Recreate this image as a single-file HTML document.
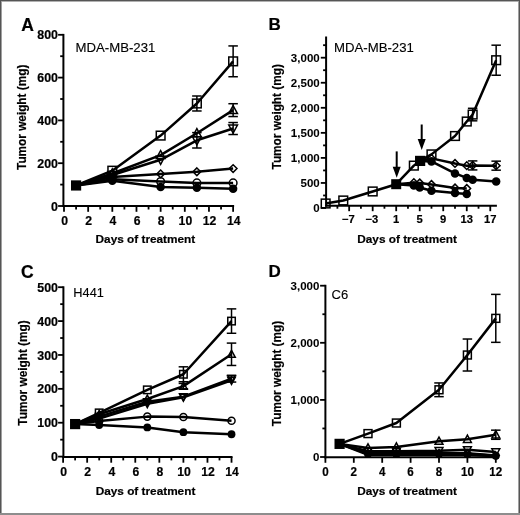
<!DOCTYPE html>
<html><head><meta charset="utf-8"><style>
html,body{margin:0;padding:0;width:520px;height:515px;overflow:hidden;background:#fff;}
svg text{font-family:"Liberation Sans", sans-serif;fill:#000;}
svg text[font-weight=bold]{stroke:#000;stroke-width:0.2px;}
svg text[font-weight=normal]{stroke:#000;stroke-width:0.12px;}
#wrap{position:absolute;left:0;top:0;width:520px;height:515px;filter:grayscale(1);}
</style></head><body><div id="wrap">
<svg width="520" height="515" viewBox="0 0 520 515" style="position:absolute;left:0;top:0">
<rect x="0" y="0" width="520" height="515" fill="#fff"/>
<line x1="63.4" y1="33.9" x2="63.4" y2="207" stroke="#000" stroke-width="2.0" stroke-linecap="butt"/>
<line x1="62.4" y1="206" x2="234.12" y2="206" stroke="#000" stroke-width="2.0" stroke-linecap="butt"/>
<line x1="58.1" y1="206" x2="63.4" y2="206" stroke="#000" stroke-width="1.8" stroke-linecap="butt"/>
<line x1="58.1" y1="163.2" x2="63.4" y2="163.2" stroke="#000" stroke-width="1.8" stroke-linecap="butt"/>
<line x1="58.1" y1="120.4" x2="63.4" y2="120.4" stroke="#000" stroke-width="1.8" stroke-linecap="butt"/>
<line x1="58.1" y1="77.6" x2="63.4" y2="77.6" stroke="#000" stroke-width="1.8" stroke-linecap="butt"/>
<line x1="58.1" y1="34.8" x2="63.4" y2="34.8" stroke="#000" stroke-width="1.8" stroke-linecap="butt"/>
<line x1="60.2" y1="184.6" x2="63.4" y2="184.6" stroke="#000" stroke-width="1.8" stroke-linecap="butt"/>
<line x1="60.2" y1="141.8" x2="63.4" y2="141.8" stroke="#000" stroke-width="1.8" stroke-linecap="butt"/>
<line x1="60.2" y1="99" x2="63.4" y2="99" stroke="#000" stroke-width="1.8" stroke-linecap="butt"/>
<line x1="60.2" y1="56.2" x2="63.4" y2="56.2" stroke="#000" stroke-width="1.8" stroke-linecap="butt"/>
<line x1="64" y1="206" x2="64" y2="211.8" stroke="#000" stroke-width="1.8" stroke-linecap="butt"/>
<line x1="88.16" y1="206" x2="88.16" y2="211.8" stroke="#000" stroke-width="1.8" stroke-linecap="butt"/>
<line x1="112.32" y1="206" x2="112.32" y2="211.8" stroke="#000" stroke-width="1.8" stroke-linecap="butt"/>
<line x1="136.48" y1="206" x2="136.48" y2="211.8" stroke="#000" stroke-width="1.8" stroke-linecap="butt"/>
<line x1="160.64" y1="206" x2="160.64" y2="211.8" stroke="#000" stroke-width="1.8" stroke-linecap="butt"/>
<line x1="184.8" y1="206" x2="184.8" y2="211.8" stroke="#000" stroke-width="1.8" stroke-linecap="butt"/>
<line x1="208.96" y1="206" x2="208.96" y2="211.8" stroke="#000" stroke-width="1.8" stroke-linecap="butt"/>
<line x1="233.12" y1="206" x2="233.12" y2="211.8" stroke="#000" stroke-width="1.8" stroke-linecap="butt"/>
<line x1="76.08" y1="206" x2="76.08" y2="209.5" stroke="#000" stroke-width="1.8" stroke-linecap="butt"/>
<line x1="100.24" y1="206" x2="100.24" y2="209.5" stroke="#000" stroke-width="1.8" stroke-linecap="butt"/>
<line x1="124.4" y1="206" x2="124.4" y2="209.5" stroke="#000" stroke-width="1.8" stroke-linecap="butt"/>
<line x1="148.56" y1="206" x2="148.56" y2="209.5" stroke="#000" stroke-width="1.8" stroke-linecap="butt"/>
<line x1="172.72" y1="206" x2="172.72" y2="209.5" stroke="#000" stroke-width="1.8" stroke-linecap="butt"/>
<line x1="196.88" y1="206" x2="196.88" y2="209.5" stroke="#000" stroke-width="1.8" stroke-linecap="butt"/>
<line x1="221.04" y1="206" x2="221.04" y2="209.5" stroke="#000" stroke-width="1.8" stroke-linecap="butt"/>
<text transform="translate(57.9 210.6) scale(1.0 1.1)" font-size="12.4" font-weight="bold" text-anchor="end" >0</text>
<text transform="translate(57.9 167.8) scale(1.0 1.1)" font-size="12.4" font-weight="bold" text-anchor="end" >200</text>
<text transform="translate(57.9 125) scale(1.0 1.1)" font-size="12.4" font-weight="bold" text-anchor="end" >400</text>
<text transform="translate(57.9 82.2) scale(1.0 1.1)" font-size="12.4" font-weight="bold" text-anchor="end" >600</text>
<text transform="translate(57.9 39.4) scale(1.0 1.1)" font-size="12.4" font-weight="bold" text-anchor="end" >800</text>
<text transform="translate(64.6 224.8) scale(1.0 1.035)" font-size="12.2" font-weight="bold" text-anchor="middle" >0</text>
<text transform="translate(88.76 224.8) scale(1.0 1.035)" font-size="12.2" font-weight="bold" text-anchor="middle" >2</text>
<text transform="translate(112.92 224.8) scale(1.0 1.035)" font-size="12.2" font-weight="bold" text-anchor="middle" >4</text>
<text transform="translate(137.08 224.8) scale(1.0 1.035)" font-size="12.2" font-weight="bold" text-anchor="middle" >6</text>
<text transform="translate(161.24 224.8) scale(1.0 1.035)" font-size="12.2" font-weight="bold" text-anchor="middle" >8</text>
<text transform="translate(185.4 224.8) scale(1.0 1.035)" font-size="12.2" font-weight="bold" text-anchor="middle" >10</text>
<text transform="translate(209.56 224.8) scale(1.0 1.035)" font-size="12.2" font-weight="bold" text-anchor="middle" >12</text>
<text transform="translate(233.72 224.8) scale(1.0 1.035)" font-size="12.2" font-weight="bold" text-anchor="middle" >14</text>
<text x="145.4" y="242.6" font-size="11.8" font-weight="bold" text-anchor="middle" >Days of treatment</text>
<text transform="translate(26.1 117.3) rotate(-90) scale(0.952 1)" font-size="12.4" font-weight="bold" text-anchor="middle" >Tumor weight (mg)</text>
<text x="21.2" y="30.9" font-size="17.5" font-weight="bold" text-anchor="start" >A</text>
<text x="75.5" y="52.3" font-size="13.2" font-weight="normal" text-anchor="start" >MDA-MB-231</text>
<polyline points="76.08,185.46 112.32,170.69 160.64,135.59 196.88,103.49 233.12,61.34" fill="none" stroke="#000" stroke-width="2.5" stroke-linejoin="round"/>
<polyline points="76.08,185.46 112.32,173.47 160.64,155.07 196.88,133.24 233.12,110.13" fill="none" stroke="#000" stroke-width="2.5" stroke-linejoin="round"/>
<polyline points="76.08,185.46 112.32,174.97 160.64,159.78 196.88,140.3 233.12,128.53" fill="none" stroke="#000" stroke-width="2.5" stroke-linejoin="round"/>
<polyline points="76.08,185.46 112.32,177.11 160.64,173.9 196.88,171.76 233.12,168.55" fill="none" stroke="#000" stroke-width="2.5" stroke-linejoin="round"/>
<polyline points="76.08,185.46 112.32,179.25 160.64,181.6 196.88,182.89 233.12,182.89" fill="none" stroke="#000" stroke-width="2.5" stroke-linejoin="round"/>
<polyline points="76.08,185.46 112.32,180.75 160.64,186.95 196.88,187.81 233.12,188.67" fill="none" stroke="#000" stroke-width="2.5" stroke-linejoin="round"/>
<line x1="196.88" y1="96" x2="196.88" y2="110.98" stroke="#000" stroke-width="1.5" stroke-linecap="butt"/>
<line x1="192.13" y1="96" x2="201.63" y2="96" stroke="#000" stroke-width="1.5" stroke-linecap="butt"/>
<line x1="192.13" y1="110.98" x2="201.63" y2="110.98" stroke="#000" stroke-width="1.5" stroke-linecap="butt"/>
<line x1="233.12" y1="45.93" x2="233.12" y2="76.74" stroke="#000" stroke-width="1.5" stroke-linecap="butt"/>
<line x1="228.37" y1="45.93" x2="237.87" y2="45.93" stroke="#000" stroke-width="1.5" stroke-linecap="butt"/>
<line x1="228.37" y1="76.74" x2="237.87" y2="76.74" stroke="#000" stroke-width="1.5" stroke-linecap="butt"/>
<line x1="233.12" y1="103.71" x2="233.12" y2="116.55" stroke="#000" stroke-width="1.5" stroke-linecap="butt"/>
<line x1="228.37" y1="103.71" x2="237.87" y2="103.71" stroke="#000" stroke-width="1.5" stroke-linecap="butt"/>
<line x1="228.37" y1="116.55" x2="237.87" y2="116.55" stroke="#000" stroke-width="1.5" stroke-linecap="butt"/>
<line x1="196.88" y1="132.6" x2="196.88" y2="148.01" stroke="#000" stroke-width="1.5" stroke-linecap="butt"/>
<line x1="192.13" y1="132.6" x2="201.63" y2="132.6" stroke="#000" stroke-width="1.5" stroke-linecap="butt"/>
<line x1="192.13" y1="148.01" x2="201.63" y2="148.01" stroke="#000" stroke-width="1.5" stroke-linecap="butt"/>
<line x1="233.12" y1="122.54" x2="233.12" y2="134.52" stroke="#000" stroke-width="1.5" stroke-linecap="butt"/>
<line x1="228.37" y1="122.54" x2="237.87" y2="122.54" stroke="#000" stroke-width="1.5" stroke-linecap="butt"/>
<line x1="228.37" y1="134.52" x2="237.87" y2="134.52" stroke="#000" stroke-width="1.5" stroke-linecap="butt"/>
<rect x="107.97" y="166.34" width="8.7" height="8.7" fill="none" stroke="#000" stroke-width="1.5"/>
<rect x="156.29" y="131.24" width="8.7" height="8.7" fill="none" stroke="#000" stroke-width="1.5"/>
<rect x="192.53" y="99.14" width="8.7" height="8.7" fill="none" stroke="#000" stroke-width="1.5"/>
<rect x="228.77" y="56.99" width="8.7" height="8.7" fill="none" stroke="#000" stroke-width="1.5"/>
<polygon points="112.32,168.9 116.67,176.95 107.97,176.95" fill="none" stroke="#000" stroke-width="1.5" stroke-linejoin="miter"/>
<polygon points="160.64,150.5 164.99,158.55 156.29,158.55" fill="none" stroke="#000" stroke-width="1.5" stroke-linejoin="miter"/>
<polygon points="196.88,128.67 201.23,136.72 192.53,136.72" fill="none" stroke="#000" stroke-width="1.5" stroke-linejoin="miter"/>
<polygon points="233.12,105.56 237.47,113.61 228.77,113.61" fill="none" stroke="#000" stroke-width="1.5" stroke-linejoin="miter"/>
<polygon points="112.32,179.54 116.67,171.49 107.97,171.49" fill="none" stroke="#000" stroke-width="1.5" stroke-linejoin="miter"/>
<polygon points="160.64,164.34 164.99,156.3 156.29,156.3" fill="none" stroke="#000" stroke-width="1.5" stroke-linejoin="miter"/>
<polygon points="196.88,144.87 201.23,136.82 192.53,136.82" fill="none" stroke="#000" stroke-width="1.5" stroke-linejoin="miter"/>
<polygon points="233.12,133.1 237.47,125.05 228.77,125.05" fill="none" stroke="#000" stroke-width="1.5" stroke-linejoin="miter"/>
<polygon points="112.32,173.26 116.17,177.11 112.32,180.96 108.47,177.11" fill="none" stroke="#000" stroke-width="1.5"/>
<polygon points="160.64,170.05 164.49,173.9 160.64,177.75 156.79,173.9" fill="none" stroke="#000" stroke-width="1.5"/>
<polygon points="196.88,167.91 200.73,171.76 196.88,175.61 193.03,171.76" fill="none" stroke="#000" stroke-width="1.5"/>
<polygon points="233.12,164.7 236.97,168.55 233.12,172.4 229.27,168.55" fill="none" stroke="#000" stroke-width="1.5"/>
<circle cx="112.32" cy="179.25" r="3.85" fill="none" stroke="#000" stroke-width="1.5"/>
<circle cx="160.64" cy="181.6" r="3.85" fill="none" stroke="#000" stroke-width="1.5"/>
<circle cx="196.88" cy="182.89" r="3.85" fill="none" stroke="#000" stroke-width="1.5"/>
<circle cx="233.12" cy="182.89" r="3.85" fill="none" stroke="#000" stroke-width="1.5"/>
<circle cx="112.32" cy="180.75" r="4.25" fill="#000"/>
<circle cx="160.64" cy="186.95" r="4.25" fill="#000"/>
<circle cx="196.88" cy="187.81" r="4.25" fill="#000"/>
<circle cx="233.12" cy="188.67" r="4.25" fill="#000"/>
<rect x="70.98" y="180.36" width="10.2" height="10.2" fill="#000"/>
<line x1="326.1" y1="36.5" x2="326.1" y2="206.7" stroke="#000" stroke-width="2.0" stroke-linecap="butt"/>
<line x1="325.1" y1="205.7" x2="496.9" y2="205.7" stroke="#000" stroke-width="2.0" stroke-linecap="butt"/>
<line x1="320.8" y1="208" x2="326.1" y2="208" stroke="#000" stroke-width="1.8" stroke-linecap="butt"/>
<line x1="320.8" y1="182.95" x2="326.1" y2="182.95" stroke="#000" stroke-width="1.8" stroke-linecap="butt"/>
<line x1="320.8" y1="157.9" x2="326.1" y2="157.9" stroke="#000" stroke-width="1.8" stroke-linecap="butt"/>
<line x1="320.8" y1="132.85" x2="326.1" y2="132.85" stroke="#000" stroke-width="1.8" stroke-linecap="butt"/>
<line x1="320.8" y1="107.8" x2="326.1" y2="107.8" stroke="#000" stroke-width="1.8" stroke-linecap="butt"/>
<line x1="320.8" y1="82.75" x2="326.1" y2="82.75" stroke="#000" stroke-width="1.8" stroke-linecap="butt"/>
<line x1="320.8" y1="57.7" x2="326.1" y2="57.7" stroke="#000" stroke-width="1.8" stroke-linecap="butt"/>
<line x1="323.1" y1="195.47" x2="326.1" y2="195.47" stroke="#000" stroke-width="1.8" stroke-linecap="butt"/>
<line x1="323.1" y1="170.43" x2="326.1" y2="170.43" stroke="#000" stroke-width="1.8" stroke-linecap="butt"/>
<line x1="323.1" y1="145.38" x2="326.1" y2="145.38" stroke="#000" stroke-width="1.8" stroke-linecap="butt"/>
<line x1="323.1" y1="120.33" x2="326.1" y2="120.33" stroke="#000" stroke-width="1.8" stroke-linecap="butt"/>
<line x1="323.1" y1="95.28" x2="326.1" y2="95.28" stroke="#000" stroke-width="1.8" stroke-linecap="butt"/>
<line x1="323.1" y1="70.22" x2="326.1" y2="70.22" stroke="#000" stroke-width="1.8" stroke-linecap="butt"/>
<line x1="323.1" y1="45.18" x2="326.1" y2="45.18" stroke="#000" stroke-width="1.8" stroke-linecap="butt"/>
<line x1="349.16" y1="205.7" x2="349.16" y2="211.2" stroke="#000" stroke-width="1.8" stroke-linecap="butt"/>
<line x1="372.68" y1="205.7" x2="372.68" y2="211.2" stroke="#000" stroke-width="1.8" stroke-linecap="butt"/>
<line x1="396.2" y1="205.7" x2="396.2" y2="211.2" stroke="#000" stroke-width="1.8" stroke-linecap="butt"/>
<line x1="419.72" y1="205.7" x2="419.72" y2="211.2" stroke="#000" stroke-width="1.8" stroke-linecap="butt"/>
<line x1="443.24" y1="205.7" x2="443.24" y2="211.2" stroke="#000" stroke-width="1.8" stroke-linecap="butt"/>
<line x1="466.76" y1="205.7" x2="466.76" y2="211.2" stroke="#000" stroke-width="1.8" stroke-linecap="butt"/>
<line x1="490.28" y1="205.7" x2="490.28" y2="211.2" stroke="#000" stroke-width="1.8" stroke-linecap="butt"/>
<line x1="337.4" y1="205.7" x2="337.4" y2="208.7" stroke="#000" stroke-width="1.8" stroke-linecap="butt"/>
<line x1="360.92" y1="205.7" x2="360.92" y2="208.7" stroke="#000" stroke-width="1.8" stroke-linecap="butt"/>
<line x1="384.44" y1="205.7" x2="384.44" y2="208.7" stroke="#000" stroke-width="1.8" stroke-linecap="butt"/>
<line x1="407.96" y1="205.7" x2="407.96" y2="208.7" stroke="#000" stroke-width="1.8" stroke-linecap="butt"/>
<line x1="431.48" y1="205.7" x2="431.48" y2="208.7" stroke="#000" stroke-width="1.8" stroke-linecap="butt"/>
<line x1="455" y1="205.7" x2="455" y2="208.7" stroke="#000" stroke-width="1.8" stroke-linecap="butt"/>
<line x1="478.52" y1="205.7" x2="478.52" y2="208.7" stroke="#000" stroke-width="1.8" stroke-linecap="butt"/>
<text transform="translate(319.7 211.8) scale(1.03 0.95)" font-size="11.2" font-weight="bold" text-anchor="end" style="stroke-width:0.05px">0</text>
<text transform="translate(319.7 186.75) scale(1.03 0.95)" font-size="11.2" font-weight="bold" text-anchor="end" style="stroke-width:0.05px">500</text>
<text transform="translate(319.7 161.7) scale(1.03 0.95)" font-size="11.2" font-weight="bold" text-anchor="end" style="stroke-width:0.05px">1,000</text>
<text transform="translate(319.7 136.65) scale(1.03 0.95)" font-size="11.2" font-weight="bold" text-anchor="end" style="stroke-width:0.05px">1,500</text>
<text transform="translate(319.7 111.6) scale(1.03 0.95)" font-size="11.2" font-weight="bold" text-anchor="end" style="stroke-width:0.05px">2,000</text>
<text transform="translate(319.7 86.55) scale(1.03 0.95)" font-size="11.2" font-weight="bold" text-anchor="end" style="stroke-width:0.05px">2,500</text>
<text transform="translate(319.7 61.5) scale(1.03 0.95)" font-size="11.2" font-weight="bold" text-anchor="end" style="stroke-width:0.05px">3,000</text>
<text x="348.36" y="222.5" font-size="11.2" font-weight="bold" text-anchor="middle" >−7</text>
<text x="371.88" y="222.5" font-size="11.2" font-weight="bold" text-anchor="middle" >−3</text>
<text x="396.2" y="222.5" font-size="11.2" font-weight="bold" text-anchor="middle" >1</text>
<text x="419.72" y="222.5" font-size="11.2" font-weight="bold" text-anchor="middle" >5</text>
<text x="443.24" y="222.5" font-size="11.2" font-weight="bold" text-anchor="middle" >9</text>
<text x="466.76" y="222.5" font-size="11.2" font-weight="bold" text-anchor="middle" >13</text>
<text x="490.28" y="222.5" font-size="11.2" font-weight="bold" text-anchor="middle" >17</text>
<text x="407.1" y="242.6" font-size="11.8" font-weight="bold" text-anchor="middle" >Days of treatment</text>
<text transform="translate(281.3 116.8) rotate(-90) scale(0.952 1)" font-size="12.4" font-weight="bold" text-anchor="middle" >Tumor weight (mg)</text>
<text x="268.6" y="30.3" font-size="17" font-weight="bold" text-anchor="start" stroke="#000" stroke-width="0.35">B</text>
<text x="334" y="52.3" font-size="13.2" font-weight="normal" text-anchor="start" >MDA-MB-231</text>
<polyline points="325.64,203.49 343.28,200.49 372.68,191.47 396.2,184.2" fill="none" stroke="#000" stroke-width="2.5" stroke-linejoin="round"/>
<polyline points="396.2,184.2 413.84,165.62 419.72,160.91" fill="none" stroke="#000" stroke-width="2.5" stroke-linejoin="round"/>
<polyline points="419.72,160.91 431.48,154.39 455,136.01 466.76,121.53 472.64,114.56 496.16,60.21" fill="none" stroke="#000" stroke-width="2.5" stroke-linejoin="round"/>
<polyline points="419.72,160.91 431.48,158.4 455,163.46 466.76,165.67 472.64,165.41 496.16,165.67" fill="none" stroke="#000" stroke-width="2.5" stroke-linejoin="round"/>
<polyline points="419.72,160.91 431.48,161.41 455,173.43 466.76,177.94 472.64,179.69 496.16,181.4" fill="none" stroke="#000" stroke-width="2.5" stroke-linejoin="round"/>
<polyline points="396.2,184.2 413.84,182.65 419.72,182.95 431.48,184.45 455,187.96 466.76,188.46" fill="none" stroke="#000" stroke-width="2.5" stroke-linejoin="round"/>
<polyline points="396.2,184.2 413.84,185.46 419.72,187.46 431.48,190.72 455,192.97 466.76,193.97" fill="none" stroke="#000" stroke-width="2.5" stroke-linejoin="round"/>
<line x1="472.64" y1="160.91" x2="472.64" y2="169.92" stroke="#000" stroke-width="1.5" stroke-linecap="butt"/>
<line x1="467.89" y1="160.91" x2="477.39" y2="160.91" stroke="#000" stroke-width="1.5" stroke-linecap="butt"/>
<line x1="467.89" y1="169.92" x2="477.39" y2="169.92" stroke="#000" stroke-width="1.5" stroke-linecap="butt"/>
<line x1="496.16" y1="161.16" x2="496.16" y2="170.17" stroke="#000" stroke-width="1.5" stroke-linecap="butt"/>
<line x1="491.41" y1="161.16" x2="500.91" y2="161.16" stroke="#000" stroke-width="1.5" stroke-linecap="butt"/>
<line x1="491.41" y1="170.17" x2="500.91" y2="170.17" stroke="#000" stroke-width="1.5" stroke-linecap="butt"/>
<polygon points="431.48,154.55 435.33,158.4 431.48,162.25 427.63,158.4" fill="none" stroke="#000" stroke-width="1.5"/>
<polygon points="455,159.61 458.85,163.46 455,167.31 451.15,163.46" fill="none" stroke="#000" stroke-width="1.5"/>
<polygon points="466.76,161.82 470.61,165.67 466.76,169.52 462.91,165.67" fill="none" stroke="#000" stroke-width="1.5"/>
<polygon points="472.64,161.56 476.49,165.41 472.64,169.26 468.79,165.41" fill="none" stroke="#000" stroke-width="1.5"/>
<polygon points="496.16,161.82 500.01,165.67 496.16,169.52 492.31,165.67" fill="none" stroke="#000" stroke-width="1.5"/>
<circle cx="431.48" cy="161.41" r="4.25" fill="#000"/>
<circle cx="455" cy="173.43" r="4.25" fill="#000"/>
<circle cx="466.76" cy="177.94" r="4.25" fill="#000"/>
<circle cx="472.64" cy="179.69" r="4.25" fill="#000"/>
<circle cx="496.16" cy="181.4" r="4.25" fill="#000"/>
<polygon points="413.84,178.8 417.69,182.65 413.84,186.5 409.99,182.65" fill="none" stroke="#000" stroke-width="1.5"/>
<polygon points="419.72,179.1 423.57,182.95 419.72,186.8 415.87,182.95" fill="none" stroke="#000" stroke-width="1.5"/>
<polygon points="431.48,180.6 435.33,184.45 431.48,188.3 427.63,184.45" fill="none" stroke="#000" stroke-width="1.5"/>
<polygon points="455,184.11 458.85,187.96 455,191.81 451.15,187.96" fill="none" stroke="#000" stroke-width="1.5"/>
<polygon points="466.76,184.61 470.61,188.46 466.76,192.31 462.91,188.46" fill="none" stroke="#000" stroke-width="1.5"/>
<circle cx="413.84" cy="185.46" r="4.25" fill="#000"/>
<circle cx="419.72" cy="187.46" r="4.25" fill="#000"/>
<circle cx="431.48" cy="190.72" r="4.25" fill="#000"/>
<circle cx="455" cy="192.97" r="4.25" fill="#000"/>
<circle cx="466.76" cy="193.97" r="4.25" fill="#000"/>
<line x1="472.64" y1="108.3" x2="472.64" y2="120.83" stroke="#000" stroke-width="1.5" stroke-linecap="butt"/>
<line x1="467.89" y1="108.3" x2="477.39" y2="108.3" stroke="#000" stroke-width="1.5" stroke-linecap="butt"/>
<line x1="467.89" y1="120.83" x2="477.39" y2="120.83" stroke="#000" stroke-width="1.5" stroke-linecap="butt"/>
<line x1="496.16" y1="45.18" x2="496.16" y2="75.24" stroke="#000" stroke-width="1.5" stroke-linecap="butt"/>
<line x1="491.41" y1="45.18" x2="500.91" y2="45.18" stroke="#000" stroke-width="1.5" stroke-linecap="butt"/>
<line x1="491.41" y1="75.24" x2="500.91" y2="75.24" stroke="#000" stroke-width="1.5" stroke-linecap="butt"/>
<rect x="321.29" y="199.14" width="8.7" height="8.7" fill="none" stroke="#000" stroke-width="1.5"/>
<rect x="338.93" y="196.14" width="8.7" height="8.7" fill="none" stroke="#000" stroke-width="1.5"/>
<rect x="368.33" y="187.12" width="8.7" height="8.7" fill="none" stroke="#000" stroke-width="1.5"/>
<rect x="409.49" y="161.27" width="8.7" height="8.7" fill="none" stroke="#000" stroke-width="1.5"/>
<rect x="427.13" y="150.04" width="8.7" height="8.7" fill="none" stroke="#000" stroke-width="1.5"/>
<rect x="450.65" y="131.66" width="8.7" height="8.7" fill="none" stroke="#000" stroke-width="1.5"/>
<rect x="462.41" y="117.18" width="8.7" height="8.7" fill="none" stroke="#000" stroke-width="1.5"/>
<rect x="468.29" y="110.21" width="8.7" height="8.7" fill="none" stroke="#000" stroke-width="1.5"/>
<rect x="491.81" y="55.86" width="8.7" height="8.7" fill="none" stroke="#000" stroke-width="1.5"/>
<rect x="391.2" y="179.2" width="10" height="10" fill="#000"/>
<rect x="415.02" y="155.81" width="10.2" height="10.2" fill="#000"/>
<line x1="396.7" y1="151.4" x2="396.7" y2="167.7" stroke="#000" stroke-width="2" stroke-linecap="butt"/>
<polygon points="392.7,166.7 400.7,166.7 396.7,177.7" fill="#000"/>
<line x1="421.7" y1="124.5" x2="421.7" y2="140" stroke="#000" stroke-width="2" stroke-linecap="butt"/>
<polygon points="417.7,139 425.7,139 421.7,150" fill="#000"/>
<line x1="63.4" y1="286.3" x2="63.4" y2="457.9" stroke="#000" stroke-width="2.0" stroke-linecap="butt"/>
<line x1="62.4" y1="456.9" x2="232.52" y2="456.9" stroke="#000" stroke-width="2.0" stroke-linecap="butt"/>
<line x1="58.1" y1="456.6" x2="63.4" y2="456.6" stroke="#000" stroke-width="1.8" stroke-linecap="butt"/>
<line x1="58.1" y1="422.72" x2="63.4" y2="422.72" stroke="#000" stroke-width="1.8" stroke-linecap="butt"/>
<line x1="58.1" y1="388.84" x2="63.4" y2="388.84" stroke="#000" stroke-width="1.8" stroke-linecap="butt"/>
<line x1="58.1" y1="354.96" x2="63.4" y2="354.96" stroke="#000" stroke-width="1.8" stroke-linecap="butt"/>
<line x1="58.1" y1="321.08" x2="63.4" y2="321.08" stroke="#000" stroke-width="1.8" stroke-linecap="butt"/>
<line x1="58.1" y1="287.2" x2="63.4" y2="287.2" stroke="#000" stroke-width="1.8" stroke-linecap="butt"/>
<line x1="60.2" y1="439.66" x2="63.4" y2="439.66" stroke="#000" stroke-width="1.8" stroke-linecap="butt"/>
<line x1="60.2" y1="405.78" x2="63.4" y2="405.78" stroke="#000" stroke-width="1.8" stroke-linecap="butt"/>
<line x1="60.2" y1="371.9" x2="63.4" y2="371.9" stroke="#000" stroke-width="1.8" stroke-linecap="butt"/>
<line x1="60.2" y1="338.02" x2="63.4" y2="338.02" stroke="#000" stroke-width="1.8" stroke-linecap="butt"/>
<line x1="60.2" y1="304.14" x2="63.4" y2="304.14" stroke="#000" stroke-width="1.8" stroke-linecap="butt"/>
<line x1="63.1" y1="456.9" x2="63.1" y2="462.7" stroke="#000" stroke-width="1.8" stroke-linecap="butt"/>
<line x1="87.16" y1="456.9" x2="87.16" y2="462.7" stroke="#000" stroke-width="1.8" stroke-linecap="butt"/>
<line x1="111.22" y1="456.9" x2="111.22" y2="462.7" stroke="#000" stroke-width="1.8" stroke-linecap="butt"/>
<line x1="135.28" y1="456.9" x2="135.28" y2="462.7" stroke="#000" stroke-width="1.8" stroke-linecap="butt"/>
<line x1="159.34" y1="456.9" x2="159.34" y2="462.7" stroke="#000" stroke-width="1.8" stroke-linecap="butt"/>
<line x1="183.4" y1="456.9" x2="183.4" y2="462.7" stroke="#000" stroke-width="1.8" stroke-linecap="butt"/>
<line x1="207.46" y1="456.9" x2="207.46" y2="462.7" stroke="#000" stroke-width="1.8" stroke-linecap="butt"/>
<line x1="231.52" y1="456.9" x2="231.52" y2="462.7" stroke="#000" stroke-width="1.8" stroke-linecap="butt"/>
<line x1="75.13" y1="456.9" x2="75.13" y2="460.4" stroke="#000" stroke-width="1.8" stroke-linecap="butt"/>
<line x1="99.19" y1="456.9" x2="99.19" y2="460.4" stroke="#000" stroke-width="1.8" stroke-linecap="butt"/>
<line x1="123.25" y1="456.9" x2="123.25" y2="460.4" stroke="#000" stroke-width="1.8" stroke-linecap="butt"/>
<line x1="147.31" y1="456.9" x2="147.31" y2="460.4" stroke="#000" stroke-width="1.8" stroke-linecap="butt"/>
<line x1="171.37" y1="456.9" x2="171.37" y2="460.4" stroke="#000" stroke-width="1.8" stroke-linecap="butt"/>
<line x1="195.43" y1="456.9" x2="195.43" y2="460.4" stroke="#000" stroke-width="1.8" stroke-linecap="butt"/>
<line x1="219.49" y1="456.9" x2="219.49" y2="460.4" stroke="#000" stroke-width="1.8" stroke-linecap="butt"/>
<text transform="translate(57.9 461.2) scale(1.0 1.1)" font-size="12.4" font-weight="bold" text-anchor="end" >0</text>
<text transform="translate(57.9 427.32) scale(1.0 1.1)" font-size="12.4" font-weight="bold" text-anchor="end" >100</text>
<text transform="translate(57.9 393.44) scale(1.0 1.1)" font-size="12.4" font-weight="bold" text-anchor="end" >200</text>
<text transform="translate(57.9 359.56) scale(1.0 1.1)" font-size="12.4" font-weight="bold" text-anchor="end" >300</text>
<text transform="translate(57.9 325.68) scale(1.0 1.1)" font-size="12.4" font-weight="bold" text-anchor="end" >400</text>
<text transform="translate(57.9 291.8) scale(1.0 1.1)" font-size="12.4" font-weight="bold" text-anchor="end" >500</text>
<text transform="translate(63.7 475.5) scale(1.0 1.035)" font-size="12.2" font-weight="bold" text-anchor="middle" >0</text>
<text transform="translate(87.76 475.5) scale(1.0 1.035)" font-size="12.2" font-weight="bold" text-anchor="middle" >2</text>
<text transform="translate(111.82 475.5) scale(1.0 1.035)" font-size="12.2" font-weight="bold" text-anchor="middle" >4</text>
<text transform="translate(135.88 475.5) scale(1.0 1.035)" font-size="12.2" font-weight="bold" text-anchor="middle" >6</text>
<text transform="translate(159.94 475.5) scale(1.0 1.035)" font-size="12.2" font-weight="bold" text-anchor="middle" >8</text>
<text transform="translate(184 475.5) scale(1.0 1.035)" font-size="12.2" font-weight="bold" text-anchor="middle" >10</text>
<text transform="translate(208.06 475.5) scale(1.0 1.035)" font-size="12.2" font-weight="bold" text-anchor="middle" >12</text>
<text transform="translate(232.12 475.5) scale(1.0 1.035)" font-size="12.2" font-weight="bold" text-anchor="middle" >14</text>
<text x="145.5" y="494.6" font-size="11.8" font-weight="bold" text-anchor="middle" >Days of treatment</text>
<text transform="translate(26.6 373) rotate(-90) scale(0.952 1)" font-size="12.4" font-weight="bold" text-anchor="middle" >Tumor weight (mg)</text>
<text transform="translate(21 277.5) scale(1 1.03)" font-size="17.5" font-weight="bold" text-anchor="start" >C</text>
<text x="73.3" y="297.3" font-size="12.8" font-weight="normal" text-anchor="start" >H441</text>
<polyline points="75.13,424.08 99.19,412.89 147.31,389.86 183.4,374.27 231.52,321.08" fill="none" stroke="#000" stroke-width="2.5" stroke-linejoin="round"/>
<polyline points="75.13,424.08 99.19,414.25 147.31,399 183.4,386.13 231.52,354.28" fill="none" stroke="#000" stroke-width="2.5" stroke-linejoin="round"/>
<polyline points="75.13,424.08 99.19,416.62 147.31,401.71 183.4,396.63 231.52,378.68" fill="none" stroke="#000" stroke-width="2.5" stroke-linejoin="round"/>
<polyline points="75.13,424.08 99.19,418.65 147.31,403.75 183.4,397.31 231.52,380.37" fill="none" stroke="#000" stroke-width="2.5" stroke-linejoin="round"/>
<polyline points="75.13,424.08 99.19,421.03 147.31,416.62 183.4,416.96 231.52,420.69" fill="none" stroke="#000" stroke-width="2.5" stroke-linejoin="round"/>
<polyline points="75.13,424.08 99.19,425.09 147.31,427.46 183.4,432.21 231.52,434.24" fill="none" stroke="#000" stroke-width="2.5" stroke-linejoin="round"/>
<line x1="183.4" y1="366.82" x2="183.4" y2="381.73" stroke="#000" stroke-width="1.5" stroke-linecap="butt"/>
<line x1="178.65" y1="366.82" x2="188.15" y2="366.82" stroke="#000" stroke-width="1.5" stroke-linecap="butt"/>
<line x1="178.65" y1="381.73" x2="188.15" y2="381.73" stroke="#000" stroke-width="1.5" stroke-linecap="butt"/>
<line x1="231.52" y1="308.88" x2="231.52" y2="333.28" stroke="#000" stroke-width="1.5" stroke-linecap="butt"/>
<line x1="226.77" y1="308.88" x2="236.27" y2="308.88" stroke="#000" stroke-width="1.5" stroke-linecap="butt"/>
<line x1="226.77" y1="333.28" x2="236.27" y2="333.28" stroke="#000" stroke-width="1.5" stroke-linecap="butt"/>
<line x1="183.4" y1="383.42" x2="183.4" y2="388.84" stroke="#000" stroke-width="1.5" stroke-linecap="butt"/>
<line x1="178.65" y1="383.42" x2="188.15" y2="383.42" stroke="#000" stroke-width="1.5" stroke-linecap="butt"/>
<line x1="178.65" y1="388.84" x2="188.15" y2="388.84" stroke="#000" stroke-width="1.5" stroke-linecap="butt"/>
<line x1="231.52" y1="343.1" x2="231.52" y2="365.46" stroke="#000" stroke-width="1.5" stroke-linecap="butt"/>
<line x1="226.77" y1="343.1" x2="236.27" y2="343.1" stroke="#000" stroke-width="1.5" stroke-linecap="butt"/>
<line x1="226.77" y1="365.46" x2="236.27" y2="365.46" stroke="#000" stroke-width="1.5" stroke-linecap="butt"/>
<line x1="231.52" y1="375.29" x2="231.52" y2="382.06" stroke="#000" stroke-width="1.5" stroke-linecap="butt"/>
<line x1="226.77" y1="375.29" x2="236.27" y2="375.29" stroke="#000" stroke-width="1.5" stroke-linecap="butt"/>
<line x1="226.77" y1="382.06" x2="236.27" y2="382.06" stroke="#000" stroke-width="1.5" stroke-linecap="butt"/>
<rect x="95.44" y="409.14" width="7.5" height="7.5" fill="none" stroke="#000" stroke-width="1.5"/>
<rect x="143.56" y="386.11" width="7.5" height="7.5" fill="none" stroke="#000" stroke-width="1.5"/>
<rect x="179.65" y="370.52" width="7.5" height="7.5" fill="none" stroke="#000" stroke-width="1.5"/>
<rect x="227.77" y="317.33" width="7.5" height="7.5" fill="none" stroke="#000" stroke-width="1.5"/>
<polygon points="99.19,410.31 102.94,417.25 95.44,417.25" fill="none" stroke="#000" stroke-width="1.5" stroke-linejoin="miter"/>
<polygon points="147.31,395.07 151.06,402 143.56,402" fill="none" stroke="#000" stroke-width="1.5" stroke-linejoin="miter"/>
<polygon points="183.4,382.19 187.15,389.13 179.65,389.13" fill="none" stroke="#000" stroke-width="1.5" stroke-linejoin="miter"/>
<polygon points="231.52,350.34 235.27,357.28 227.77,357.28" fill="none" stroke="#000" stroke-width="1.5" stroke-linejoin="miter"/>
<polygon points="99.19,420.56 102.94,413.62 95.44,413.62" fill="none" stroke="#000" stroke-width="1.5" stroke-linejoin="miter"/>
<polygon points="147.31,405.65 151.06,398.71 143.56,398.71" fill="none" stroke="#000" stroke-width="1.5" stroke-linejoin="miter"/>
<polygon points="183.4,400.57 187.15,393.63 179.65,393.63" fill="none" stroke="#000" stroke-width="1.5" stroke-linejoin="miter"/>
<polygon points="231.52,382.61 235.27,375.68 227.77,375.68" fill="none" stroke="#000" stroke-width="1.5" stroke-linejoin="miter"/>
<polygon points="99.19,422.59 102.94,415.65 95.44,415.65" fill="none" stroke="#000" stroke-width="1.5" stroke-linejoin="miter"/>
<polygon points="147.31,407.68 151.06,400.75 143.56,400.75" fill="none" stroke="#000" stroke-width="1.5" stroke-linejoin="miter"/>
<polygon points="183.4,401.25 187.15,394.31 179.65,394.31" fill="none" stroke="#000" stroke-width="1.5" stroke-linejoin="miter"/>
<polygon points="231.52,384.31 235.27,377.37 227.77,377.37" fill="none" stroke="#000" stroke-width="1.5" stroke-linejoin="miter"/>
<circle cx="99.19" cy="421.03" r="3.55" fill="none" stroke="#000" stroke-width="1.5"/>
<circle cx="147.31" cy="416.62" r="3.55" fill="none" stroke="#000" stroke-width="1.5"/>
<circle cx="183.4" cy="416.96" r="3.55" fill="none" stroke="#000" stroke-width="1.5"/>
<circle cx="231.52" cy="420.69" r="3.55" fill="none" stroke="#000" stroke-width="1.5"/>
<circle cx="99.19" cy="425.09" r="3.9" fill="#000"/>
<circle cx="147.31" cy="427.46" r="3.9" fill="#000"/>
<circle cx="183.4" cy="432.21" r="3.9" fill="#000"/>
<circle cx="231.52" cy="434.24" r="3.9" fill="#000"/>
<rect x="70.03" y="418.98" width="10.2" height="10.2" fill="#000"/>
<line x1="325.4" y1="284.8" x2="325.4" y2="458.3" stroke="#000" stroke-width="2.0" stroke-linecap="butt"/>
<line x1="324.4" y1="457.3" x2="496.8" y2="457.3" stroke="#000" stroke-width="2.0" stroke-linecap="butt"/>
<line x1="320.1" y1="457" x2="325.4" y2="457" stroke="#000" stroke-width="1.8" stroke-linecap="butt"/>
<line x1="320.1" y1="399.9" x2="325.4" y2="399.9" stroke="#000" stroke-width="1.8" stroke-linecap="butt"/>
<line x1="320.1" y1="342.8" x2="325.4" y2="342.8" stroke="#000" stroke-width="1.8" stroke-linecap="butt"/>
<line x1="320.1" y1="285.7" x2="325.4" y2="285.7" stroke="#000" stroke-width="1.8" stroke-linecap="butt"/>
<line x1="322.4" y1="428.45" x2="325.4" y2="428.45" stroke="#000" stroke-width="1.8" stroke-linecap="butt"/>
<line x1="322.4" y1="371.35" x2="325.4" y2="371.35" stroke="#000" stroke-width="1.8" stroke-linecap="butt"/>
<line x1="322.4" y1="314.25" x2="325.4" y2="314.25" stroke="#000" stroke-width="1.8" stroke-linecap="butt"/>
<line x1="325.4" y1="457.3" x2="325.4" y2="462.8" stroke="#000" stroke-width="1.8" stroke-linecap="butt"/>
<line x1="353.8" y1="457.3" x2="353.8" y2="462.8" stroke="#000" stroke-width="1.8" stroke-linecap="butt"/>
<line x1="382.2" y1="457.3" x2="382.2" y2="462.8" stroke="#000" stroke-width="1.8" stroke-linecap="butt"/>
<line x1="410.6" y1="457.3" x2="410.6" y2="462.8" stroke="#000" stroke-width="1.8" stroke-linecap="butt"/>
<line x1="439" y1="457.3" x2="439" y2="462.8" stroke="#000" stroke-width="1.8" stroke-linecap="butt"/>
<line x1="467.4" y1="457.3" x2="467.4" y2="462.8" stroke="#000" stroke-width="1.8" stroke-linecap="butt"/>
<line x1="495.8" y1="457.3" x2="495.8" y2="462.8" stroke="#000" stroke-width="1.8" stroke-linecap="butt"/>
<text transform="translate(319.4 460.8) scale(1.03 0.95)" font-size="11.2" font-weight="bold" text-anchor="end" style="stroke-width:0.05px">0</text>
<text transform="translate(319.4 403.7) scale(1.03 0.95)" font-size="11.2" font-weight="bold" text-anchor="end" style="stroke-width:0.05px">1,000</text>
<text transform="translate(319.4 346.6) scale(1.03 0.95)" font-size="11.2" font-weight="bold" text-anchor="end" style="stroke-width:0.05px">2,000</text>
<text transform="translate(319.4 289.5) scale(1.03 0.95)" font-size="11.2" font-weight="bold" text-anchor="end" style="stroke-width:0.05px">3,000</text>
<text transform="translate(325.4 475.7) scale(0.985 1.12)" font-size="11.8" font-weight="bold" text-anchor="middle" >0</text>
<text transform="translate(353.8 475.7) scale(0.985 1.12)" font-size="11.8" font-weight="bold" text-anchor="middle" >2</text>
<text transform="translate(382.2 475.7) scale(0.985 1.12)" font-size="11.8" font-weight="bold" text-anchor="middle" >4</text>
<text transform="translate(410.6 475.7) scale(0.985 1.12)" font-size="11.8" font-weight="bold" text-anchor="middle" >6</text>
<text transform="translate(439 475.7) scale(0.985 1.12)" font-size="11.8" font-weight="bold" text-anchor="middle" >8</text>
<text transform="translate(467.4 475.7) scale(0.985 1.12)" font-size="11.8" font-weight="bold" text-anchor="middle" >10</text>
<text transform="translate(495.8 475.7) scale(0.985 1.12)" font-size="11.8" font-weight="bold" text-anchor="middle" >12</text>
<text x="407" y="495" font-size="11.8" font-weight="bold" text-anchor="middle" >Days of treatment</text>
<text transform="translate(281.3 373.5) rotate(-90) scale(0.952 1)" font-size="12.4" font-weight="bold" text-anchor="middle" >Tumor weight (mg)</text>
<text x="268.6" y="276.8" font-size="17" font-weight="bold" text-anchor="start" stroke="#000" stroke-width="0.35">D</text>
<text x="331.5" y="299.2" font-size="13" font-weight="normal" text-anchor="start" >C6</text>
<polyline points="339.6,443.87 368,433.59 396.4,423.03 439,389.79 467.4,355.02 495.8,318.36" fill="none" stroke="#000" stroke-width="2.5" stroke-linejoin="round"/>
<polyline points="339.6,443.87 368,447.92 396.4,447.06 439,441.18 467.4,439.24 495.8,434.73" fill="none" stroke="#000" stroke-width="2.5" stroke-linejoin="round"/>
<polyline points="339.6,443.87 368,451.29 396.4,451.29 439,450.78 467.4,449.81 495.8,451.98" fill="none" stroke="#000" stroke-width="2.5" stroke-linejoin="round"/>
<polyline points="339.6,443.87 368,454.72 396.4,454.83 439,454.72 467.4,454.83 495.8,456.31" fill="none" stroke="#000" stroke-width="2.5" stroke-linejoin="round"/>
<polyline points="339.6,443.87 368,453.86 396.4,454.03 439,453.86 467.4,454.03 495.8,455.86" fill="none" stroke="#000" stroke-width="2.5" stroke-linejoin="round"/>
<polyline points="339.6,443.87 368,453.12 396.4,453.12 439,452.89 467.4,453.23 495.8,455.52" fill="none" stroke="#000" stroke-width="2.5" stroke-linejoin="round"/>
<line x1="439" y1="382.94" x2="439" y2="396.65" stroke="#000" stroke-width="1.5" stroke-linecap="butt"/>
<line x1="434.25" y1="382.94" x2="443.75" y2="382.94" stroke="#000" stroke-width="1.5" stroke-linecap="butt"/>
<line x1="434.25" y1="396.65" x2="443.75" y2="396.65" stroke="#000" stroke-width="1.5" stroke-linecap="butt"/>
<line x1="467.4" y1="339.03" x2="467.4" y2="371.01" stroke="#000" stroke-width="1.5" stroke-linecap="butt"/>
<line x1="462.65" y1="339.03" x2="472.15" y2="339.03" stroke="#000" stroke-width="1.5" stroke-linecap="butt"/>
<line x1="462.65" y1="371.01" x2="472.15" y2="371.01" stroke="#000" stroke-width="1.5" stroke-linecap="butt"/>
<line x1="495.8" y1="294.38" x2="495.8" y2="342.34" stroke="#000" stroke-width="1.5" stroke-linecap="butt"/>
<line x1="491.05" y1="294.38" x2="500.55" y2="294.38" stroke="#000" stroke-width="1.5" stroke-linecap="butt"/>
<line x1="491.05" y1="342.34" x2="500.55" y2="342.34" stroke="#000" stroke-width="1.5" stroke-linecap="butt"/>
<line x1="495.8" y1="430.16" x2="495.8" y2="439.3" stroke="#000" stroke-width="1.5" stroke-linecap="butt"/>
<line x1="491.05" y1="430.16" x2="500.55" y2="430.16" stroke="#000" stroke-width="1.5" stroke-linecap="butt"/>
<line x1="491.05" y1="439.3" x2="500.55" y2="439.3" stroke="#000" stroke-width="1.5" stroke-linecap="butt"/>
<rect x="364.05" y="429.64" width="7.9" height="7.9" fill="none" stroke="#000" stroke-width="1.5"/>
<rect x="392.45" y="419.08" width="7.9" height="7.9" fill="none" stroke="#000" stroke-width="1.5"/>
<rect x="435.05" y="385.84" width="7.9" height="7.9" fill="none" stroke="#000" stroke-width="1.5"/>
<rect x="463.45" y="351.07" width="7.9" height="7.9" fill="none" stroke="#000" stroke-width="1.5"/>
<rect x="491.85" y="314.41" width="7.9" height="7.9" fill="none" stroke="#000" stroke-width="1.5"/>
<polygon points="368,443.77 371.95,451.08 364.05,451.08" fill="none" stroke="#000" stroke-width="1.5" stroke-linejoin="miter"/>
<polygon points="396.4,442.92 400.35,450.22 392.45,450.22" fill="none" stroke="#000" stroke-width="1.5" stroke-linejoin="miter"/>
<polygon points="439,437.04 442.95,444.34 435.05,444.34" fill="none" stroke="#000" stroke-width="1.5" stroke-linejoin="miter"/>
<polygon points="467.4,435.09 471.35,442.4 463.45,442.4" fill="none" stroke="#000" stroke-width="1.5" stroke-linejoin="miter"/>
<polygon points="495.8,430.58 499.75,437.89 491.85,437.89" fill="none" stroke="#000" stroke-width="1.5" stroke-linejoin="miter"/>
<polygon points="368,455.44 371.95,448.13 364.05,448.13" fill="none" stroke="#000" stroke-width="1.5" stroke-linejoin="miter"/>
<polygon points="396.4,455.44 400.35,448.13 392.45,448.13" fill="none" stroke="#000" stroke-width="1.5" stroke-linejoin="miter"/>
<polygon points="439,454.92 442.95,447.62 435.05,447.62" fill="none" stroke="#000" stroke-width="1.5" stroke-linejoin="miter"/>
<polygon points="467.4,453.95 471.35,446.65 463.45,446.65" fill="none" stroke="#000" stroke-width="1.5" stroke-linejoin="miter"/>
<polygon points="495.8,456.12 499.75,448.82 491.85,448.82" fill="none" stroke="#000" stroke-width="1.5" stroke-linejoin="miter"/>
<circle cx="368" cy="454.72" r="3.25" fill="#000"/>
<circle cx="396.4" cy="454.83" r="3.25" fill="#000"/>
<circle cx="439" cy="454.72" r="3.25" fill="#000"/>
<circle cx="467.4" cy="454.83" r="3.25" fill="#000"/>
<circle cx="495.8" cy="456.31" r="3.25" fill="#000"/>
<circle cx="368" cy="453.86" r="3.25" fill="none" stroke="#000" stroke-width="1.5"/>
<circle cx="396.4" cy="454.03" r="3.25" fill="none" stroke="#000" stroke-width="1.5"/>
<circle cx="439" cy="453.86" r="3.25" fill="none" stroke="#000" stroke-width="1.5"/>
<circle cx="467.4" cy="454.03" r="3.25" fill="none" stroke="#000" stroke-width="1.5"/>
<circle cx="495.8" cy="455.86" r="3.25" fill="none" stroke="#000" stroke-width="1.5"/>
<polygon points="368,449.67 371.45,453.12 368,456.57 364.55,453.12" fill="none" stroke="#000" stroke-width="1.5"/>
<polygon points="396.4,449.67 399.85,453.12 396.4,456.57 392.95,453.12" fill="none" stroke="#000" stroke-width="1.5"/>
<polygon points="439,449.44 442.45,452.89 439,456.34 435.55,452.89" fill="none" stroke="#000" stroke-width="1.5"/>
<polygon points="467.4,449.78 470.85,453.23 467.4,456.68 463.95,453.23" fill="none" stroke="#000" stroke-width="1.5"/>
<polygon points="495.8,452.07 499.25,455.52 495.8,458.97 492.35,455.52" fill="none" stroke="#000" stroke-width="1.5"/>
<rect x="334.5" y="438.77" width="10.2" height="10.2" fill="#000"/>
<rect x="0" y="0" width="520" height="1" fill="#555"/>
<rect x="0" y="1" width="520" height="1" fill="#b0b0b0"/>
<rect x="0" y="0" width="1" height="515" fill="#555"/>
<rect x="1" y="1" width="1" height="512" fill="#a0a0a0"/>
<rect x="519" y="0" width="1" height="515" fill="#555"/>
<rect x="518" y="1" width="1" height="512" fill="#a0a0a0"/>
<rect x="0" y="513" width="520" height="2" fill="#8d8d8d"/>
</svg>
</div></body></html>
